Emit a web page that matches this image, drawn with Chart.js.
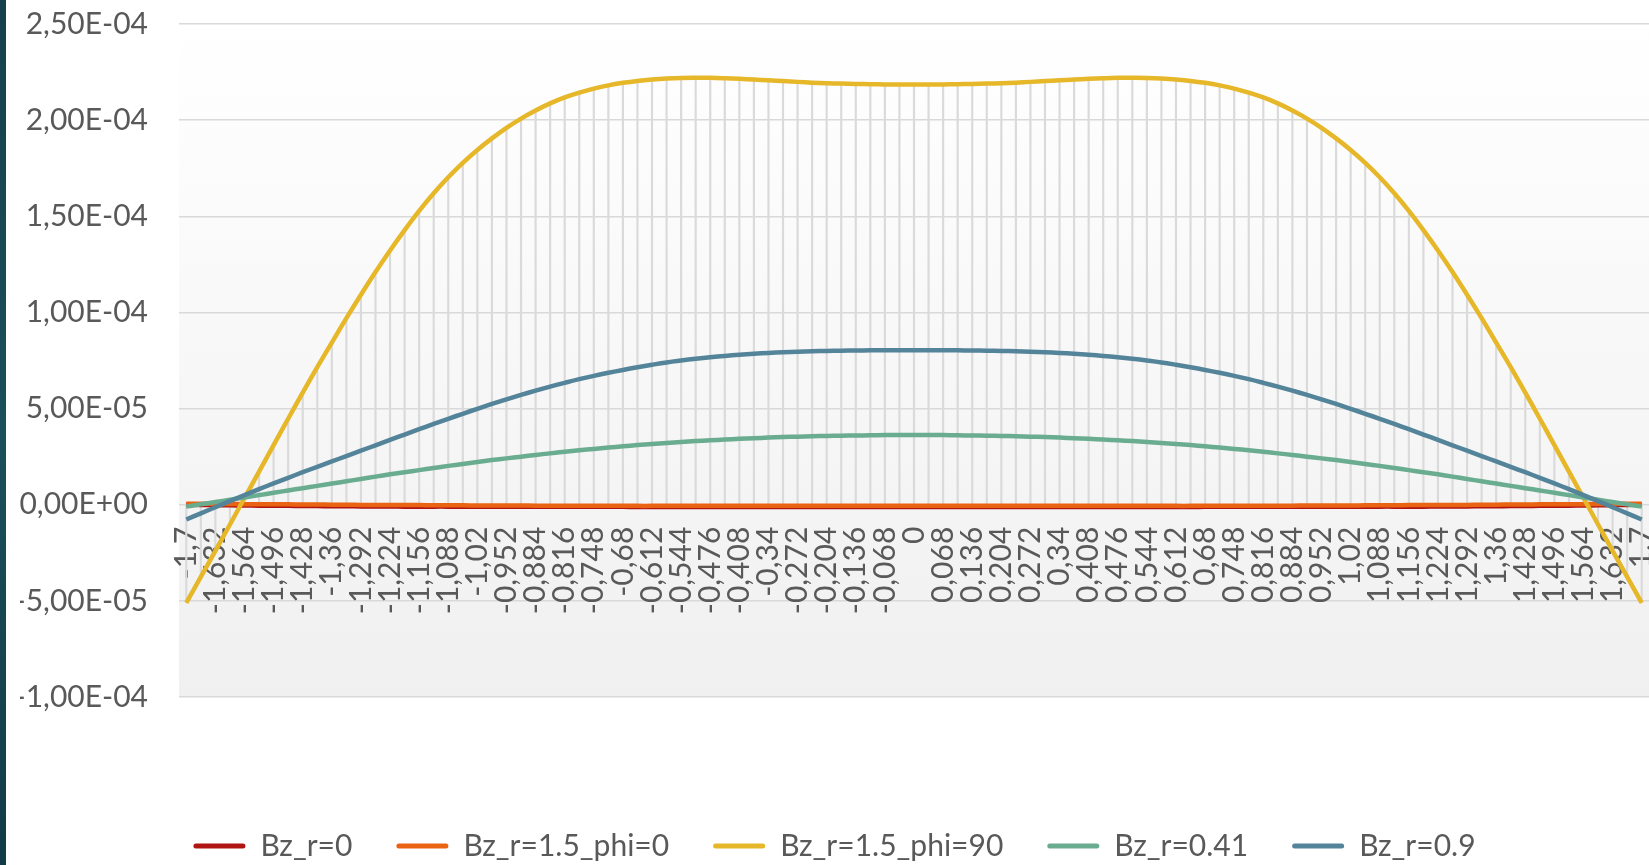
<!DOCTYPE html>
<html>
<head>
<meta charset="utf-8">
<script src="https://cdn.jsdelivr.net/npm/chart.js@4"></script>
<style>
  html, body { margin: 0; padding: 0; background: #ffffff; }
  #wrap { position: relative; width: 1649px; height: 865px; overflow: hidden; }
  #bar { position: absolute; left: 0; top: 0; width: 6px; height: 865px;
         background: linear-gradient(#163f4d, #1b4f5c 50%, #123a47); }
  canvas { position: absolute; left: 0; top: 0; }
</style>
</head>
<body>
<div id="wrap">
  <canvas id="chart" width="1649" height="865"></canvas>
  <div id="bar"></div>
</div>
<script>
// z positions (categories)
const categories = [
  -1.7, -1.666, -1.632, -1.598, -1.564, -1.53, -1.496, -1.462, -1.428, -1.394,
  -1.36, -1.326, -1.292, -1.258, -1.224, -1.19, -1.156, -1.122, -1.088, -1.054,
  -1.02, -0.986, -0.952, -0.918, -0.884, -0.85, -0.816, -0.782, -0.748, -0.714,
  -0.68, -0.646, -0.612, -0.578, -0.544, -0.51, -0.476, -0.442, -0.408, -0.374,
  -0.34, -0.306, -0.272, -0.238, -0.204, -0.17, -0.136, -0.102, -0.068, -0.034,
  0,
  0.034, 0.068, 0.102, 0.136, 0.17, 0.204, 0.238, 0.272, 0.306, 0.34,
  0.374, 0.408, 0.442, 0.476, 0.51, 0.544, 0.578, 0.612, 0.646, 0.68,
  0.714, 0.748, 0.782, 0.816, 0.85, 0.884, 0.918, 0.952, 0.986, 1.02,
  1.054, 1.088, 1.122, 1.156, 1.19, 1.224, 1.258, 1.292, 1.326, 1.36,
  1.394, 1.428, 1.462, 1.496, 1.53, 1.564, 1.598, 1.632, 1.666, 1.7
];

const bzR0 = [
  0.00e-5, -0.01e-5, -0.02e-5, -0.03e-5, -0.04e-5, -0.05e-5, -0.06e-5, -0.06e-5, -0.07e-5, -0.07e-5,
  -0.08e-5, -0.08e-5, -0.09e-5, -0.09e-5, -0.09e-5, -0.10e-5, -0.10e-5, -0.10e-5, -0.10e-5, -0.11e-5,
  -0.11e-5, -0.11e-5, -0.11e-5, -0.11e-5, -0.11e-5, -0.11e-5, -0.11e-5, -0.11e-5, -0.11e-5, -0.11e-5,
  -0.11e-5, -0.12e-5, -0.12e-5, -0.12e-5, -0.12e-5, -0.12e-5, -0.12e-5, -0.12e-5, -0.12e-5, -0.12e-5,
  -0.12e-5, -0.12e-5, -0.12e-5, -0.12e-5, -0.12e-5, -0.12e-5, -0.12e-5, -0.12e-5, -0.12e-5, -0.12e-5,
  -0.12e-5,
  -0.12e-5, -0.12e-5, -0.12e-5, -0.12e-5, -0.12e-5, -0.12e-5, -0.12e-5, -0.12e-5, -0.12e-5, -0.12e-5,
  -0.12e-5, -0.12e-5, -0.12e-5, -0.12e-5, -0.12e-5, -0.12e-5, -0.12e-5, -0.12e-5, -0.12e-5, -0.11e-5,
  -0.11e-5, -0.11e-5, -0.11e-5, -0.11e-5, -0.11e-5, -0.11e-5, -0.11e-5, -0.11e-5, -0.11e-5, -0.11e-5,
  -0.11e-5, -0.10e-5, -0.10e-5, -0.10e-5, -0.10e-5, -0.09e-5, -0.09e-5, -0.09e-5, -0.08e-5, -0.08e-5,
  -0.07e-5, -0.07e-5, -0.06e-5, -0.06e-5, -0.05e-5, -0.04e-5, -0.03e-5, -0.02e-5, -0.01e-5, 0.00e-5
];

const bzR15phi0 = [
  0.05e-5, 0.05e-5, 0.04e-5, 0.04e-5, 0.03e-5, 0.03e-5, 0.02e-5, 0.02e-5, 0.01e-5, 0.01e-5,
  0.00e-5, 0.00e-5, -0.01e-5, -0.01e-5, -0.02e-5, -0.02e-5, -0.02e-5, -0.03e-5, -0.03e-5, -0.03e-5,
  -0.04e-5, -0.04e-5, -0.04e-5, -0.04e-5, -0.05e-5, -0.05e-5, -0.05e-5, -0.05e-5, -0.05e-5, -0.05e-5,
  -0.05e-5, -0.06e-5, -0.06e-5, -0.06e-5, -0.06e-5, -0.06e-5, -0.06e-5, -0.06e-5, -0.06e-5, -0.06e-5,
  -0.06e-5, -0.06e-5, -0.06e-5, -0.06e-5, -0.06e-5, -0.06e-5, -0.06e-5, -0.06e-5, -0.06e-5, -0.06e-5,
  -0.06e-5,
  -0.06e-5, -0.06e-5, -0.06e-5, -0.06e-5, -0.06e-5, -0.06e-5, -0.06e-5, -0.06e-5, -0.06e-5, -0.06e-5,
  -0.06e-5, -0.06e-5, -0.06e-5, -0.06e-5, -0.06e-5, -0.06e-5, -0.06e-5, -0.06e-5, -0.06e-5, -0.05e-5,
  -0.05e-5, -0.05e-5, -0.05e-5, -0.05e-5, -0.05e-5, -0.05e-5, -0.04e-5, -0.04e-5, -0.04e-5, -0.04e-5,
  -0.03e-5, -0.03e-5, -0.03e-5, -0.02e-5, -0.02e-5, -0.02e-5, -0.01e-5, -0.01e-5, 0.00e-5, 0.00e-5,
  0.01e-5, 0.01e-5, 0.02e-5, 0.02e-5, 0.03e-5, 0.03e-5, 0.04e-5, 0.04e-5, 0.05e-5, 0.05e-5
];

const bzR15phi90 = [
  -5.10e-5, -3.75e-5, -2.40e-5, -1.03e-5, 0.35e-5, 1.72e-5, 3.10e-5, 4.47e-5, 5.83e-5, 7.15e-5,
  8.43e-5, 9.70e-5, 10.92e-5, 12.10e-5, 13.22e-5, 14.28e-5, 15.28e-5, 16.20e-5, 17.03e-5, 17.78e-5,
  18.45e-5, 19.05e-5, 19.60e-5, 20.08e-5, 20.50e-5, 20.87e-5, 21.18e-5, 21.43e-5, 21.64e-5, 21.81e-5,
  21.94e-5, 22.04e-5, 22.11e-5, 22.16e-5, 22.19e-5, 22.20e-5, 22.20e-5, 22.18e-5, 22.15e-5, 22.11e-5,
  22.07e-5, 22.03e-5, 21.99e-5, 21.95e-5, 21.92e-5, 21.90e-5, 21.88e-5, 21.87e-5, 21.86e-5, 21.86e-5,
  21.86e-5,
  21.86e-5, 21.86e-5, 21.87e-5, 21.88e-5, 21.90e-5, 21.92e-5, 21.95e-5, 21.99e-5, 22.03e-5, 22.07e-5,
  22.11e-5, 22.15e-5, 22.18e-5, 22.20e-5, 22.20e-5, 22.19e-5, 22.16e-5, 22.11e-5, 22.04e-5, 21.94e-5,
  21.81e-5, 21.64e-5, 21.43e-5, 21.18e-5, 20.87e-5, 20.50e-5, 20.08e-5, 19.60e-5, 19.05e-5, 18.45e-5,
  17.78e-5, 17.03e-5, 16.20e-5, 15.28e-5, 14.28e-5, 13.22e-5, 12.10e-5, 10.92e-5, 9.70e-5, 8.43e-5,
  7.15e-5, 5.83e-5, 4.47e-5, 3.10e-5, 1.72e-5, 0.35e-5, -1.03e-5, -2.40e-5, -3.75e-5, -5.10e-5
];

const bzR041 = [
  -0.10e-5, 0.02e-5, 0.14e-5, 0.26e-5, 0.38e-5, 0.50e-5, 0.62e-5, 0.74e-5, 0.86e-5, 0.98e-5,
  1.10e-5, 1.22e-5, 1.34e-5, 1.46e-5, 1.58e-5, 1.69e-5, 1.80e-5, 1.91e-5, 2.02e-5, 2.12e-5,
  2.22e-5, 2.32e-5, 2.41e-5, 2.50e-5, 2.59e-5, 2.67e-5, 2.75e-5, 2.83e-5, 2.90e-5, 2.97e-5,
  3.04e-5, 3.10e-5, 3.16e-5, 3.21e-5, 3.26e-5, 3.31e-5, 3.35e-5, 3.39e-5, 3.43e-5, 3.46e-5,
  3.49e-5, 3.52e-5, 3.54e-5, 3.56e-5, 3.58e-5, 3.59e-5, 3.60e-5, 3.61e-5, 3.62e-5, 3.62e-5,
  3.62e-5,
  3.62e-5, 3.62e-5, 3.61e-5, 3.60e-5, 3.59e-5, 3.58e-5, 3.56e-5, 3.54e-5, 3.52e-5, 3.49e-5,
  3.46e-5, 3.43e-5, 3.39e-5, 3.35e-5, 3.31e-5, 3.26e-5, 3.21e-5, 3.16e-5, 3.10e-5, 3.04e-5,
  2.97e-5, 2.90e-5, 2.83e-5, 2.75e-5, 2.67e-5, 2.59e-5, 2.50e-5, 2.41e-5, 2.32e-5, 2.22e-5,
  2.12e-5, 2.02e-5, 1.91e-5, 1.80e-5, 1.69e-5, 1.58e-5, 1.46e-5, 1.34e-5, 1.22e-5, 1.10e-5,
  0.98e-5, 0.86e-5, 0.74e-5, 0.62e-5, 0.50e-5, 0.38e-5, 0.26e-5, 0.14e-5, 0.02e-5, -0.10e-5
];

const bzR09 = [
  -0.77e-5, -0.45e-5, -0.13e-5, 0.19e-5, 0.50e-5, 0.81e-5, 1.11e-5, 1.40e-5, 1.69e-5, 1.97e-5,
  2.25e-5, 2.53e-5, 2.81e-5, 3.09e-5, 3.37e-5, 3.65e-5, 3.93e-5, 4.20e-5, 4.47e-5, 4.73e-5,
  4.99e-5, 5.24e-5, 5.48e-5, 5.71e-5, 5.93e-5, 6.14e-5, 6.34e-5, 6.53e-5, 6.70e-5, 6.86e-5,
  7.01e-5, 7.15e-5, 7.28e-5, 7.40e-5, 7.50e-5, 7.59e-5, 7.67e-5, 7.74e-5, 7.80e-5, 7.85e-5,
  7.89e-5, 7.93e-5, 7.96e-5, 7.98e-5, 8.00e-5, 8.01e-5, 8.02e-5, 8.03e-5, 8.03e-5, 8.03e-5,
  8.03e-5,
  8.03e-5, 8.03e-5, 8.03e-5, 8.02e-5, 8.01e-5, 8.00e-5, 7.98e-5, 7.96e-5, 7.93e-5, 7.89e-5,
  7.85e-5, 7.80e-5, 7.74e-5, 7.67e-5, 7.59e-5, 7.50e-5, 7.40e-5, 7.28e-5, 7.15e-5, 7.01e-5,
  6.86e-5, 6.70e-5, 6.53e-5, 6.34e-5, 6.14e-5, 5.93e-5, 5.71e-5, 5.48e-5, 5.24e-5, 4.99e-5,
  4.73e-5, 4.47e-5, 4.20e-5, 3.93e-5, 3.65e-5, 3.37e-5, 3.09e-5, 2.81e-5, 2.53e-5, 2.25e-5,
  1.97e-5, 1.69e-5, 1.40e-5, 1.11e-5, 0.81e-5, 0.50e-5, 0.19e-5, -0.13e-5, -0.45e-5, -0.77e-5
];

const seriesNames = ["Bz_r=0", "Bz_r=1.5_phi=0", "Bz_r=1.5_phi=90", "Bz_r=0.41", "Bz_r=0.9"];
const seriesData = [bzR0, bzR15phi0, bzR15phi90, bzR041, bzR09];
const seriesColors = ["#b01513", "#ea6312", "#e6b729", "#6aac90", "#54849a"];

const yTicks = { min: -1e-4, max: 2.5e-4, step: 5e-5 };

const textColor = "#595959";
const fontFamily = "Lato, 'Liberation Sans', sans-serif";

// high-low lines: from the lowest to the highest series value at each z
const highLow = categories.map((_, i) => {
  const vals = seriesData.map(s => s[i]);
  return [Math.min(...vals), Math.max(...vals)];
});

function sciLabel(v) {
  if (Math.abs(v) < 1e-12) v = 0;
  const [m, e] = v.toExponential(2).split("e");
  const n = parseInt(e, 10);
  return m.replace(".", ",") + "E" + (n < 0 ? "-" : "+") + String(Math.abs(n)).padStart(2, "0");
}

// plot area fill (white to light grey)
const plotBg = {
  id: "plotBg",
  beforeDraw(chart) {
    const { ctx, chartArea: a } = chart;
    const g = ctx.createLinearGradient(0, a.top, 0, a.bottom);
    g.addColorStop(0, "#ffffff");
    g.addColorStop(1, "#f0f0f0");
    ctx.save();
    ctx.fillStyle = g;
    ctx.fillRect(a.left, a.top, a.right - a.left, a.bottom - a.top);
    ctx.restore();
  }
};

const datasets = seriesNames.map((name, k) => ({
  type: "line",
  label: name,
  data: seriesData[k],
  borderColor: seriesColors[k],
  backgroundColor: seriesColors[k],
  borderWidth: 4.5,
  pointRadius: 0,
  tension: 0.4,
  fill: false,
  order: 5 - k
}));

datasets.push({
  type: "bar",
  label: "highlow",
  data: highLow,
  backgroundColor: "#dadada",
  barThickness: 1.5,
  order: 10
});

new Chart(document.getElementById("chart"), {
  type: "line",
  data: { labels: categories, datasets },
  options: {
    responsive: false,
    animation: false,
    layout: { padding: { top: 24, left: 20, right: 0, bottom: -6 } },
    scales: {
      x: {
        type: "category",
        offset: true,
        position: { y: 0 },
        grid: { display: false, drawTicks: false },
        border: { display: false },
        ticks: {
          autoSkip: false,
          minRotation: 90,
          maxRotation: 90,
          padding: 22,
          color: textColor,
          font: { family: fontFamily, size: 30 },
          callback: (v, i) => (i % 2 === 0 ? String(categories[i]).replace(".", ",") : "")
        },
        afterFit: (scale) => { scale.paddingLeft = 0; scale.paddingRight = 0; }
      },
      y: {
        min: yTicks.min,
        max: yTicks.max,
        grid: { color: "#d9d9d9", lineWidth: 1.5, drawTicks: false },
        border: { display: false },
        ticks: {
          stepSize: yTicks.step,
          padding: 31,
          color: textColor,
          font: { family: fontFamily, size: 30 },
          callback: sciLabel
        },
        afterFit: (scale) => {
          scale.width = 159;
          scale.paddingTop = 0;
          scale.paddingBottom = 0;
        }
      }
    },
    plugins: {
      tooltip: { enabled: false },
      legend: {
        position: "bottom",
        title: { display: true, text: " ", padding: { top: 0, bottom: 78 }, font: { size: 10 } },
        labels: {
          boxWidth: 52,
          boxHeight: 5,
          padding: 44,
          color: textColor,
          font: { family: fontFamily, size: 30 },
          filter: (item) => item.datasetIndex < seriesNames.length,
          sort: (a, b) => a.datasetIndex - b.datasetIndex,
          generateLabels: (chart) =>
            Chart.defaults.plugins.legend.labels.generateLabels(chart).map(l => ({
              ...l, fillStyle: l.strokeStyle, lineWidth: 0, borderRadius: 2.5
            }))
        }
      }
    }
  },
  plugins: [plotBg]
});
</script>
</body>
</html>
